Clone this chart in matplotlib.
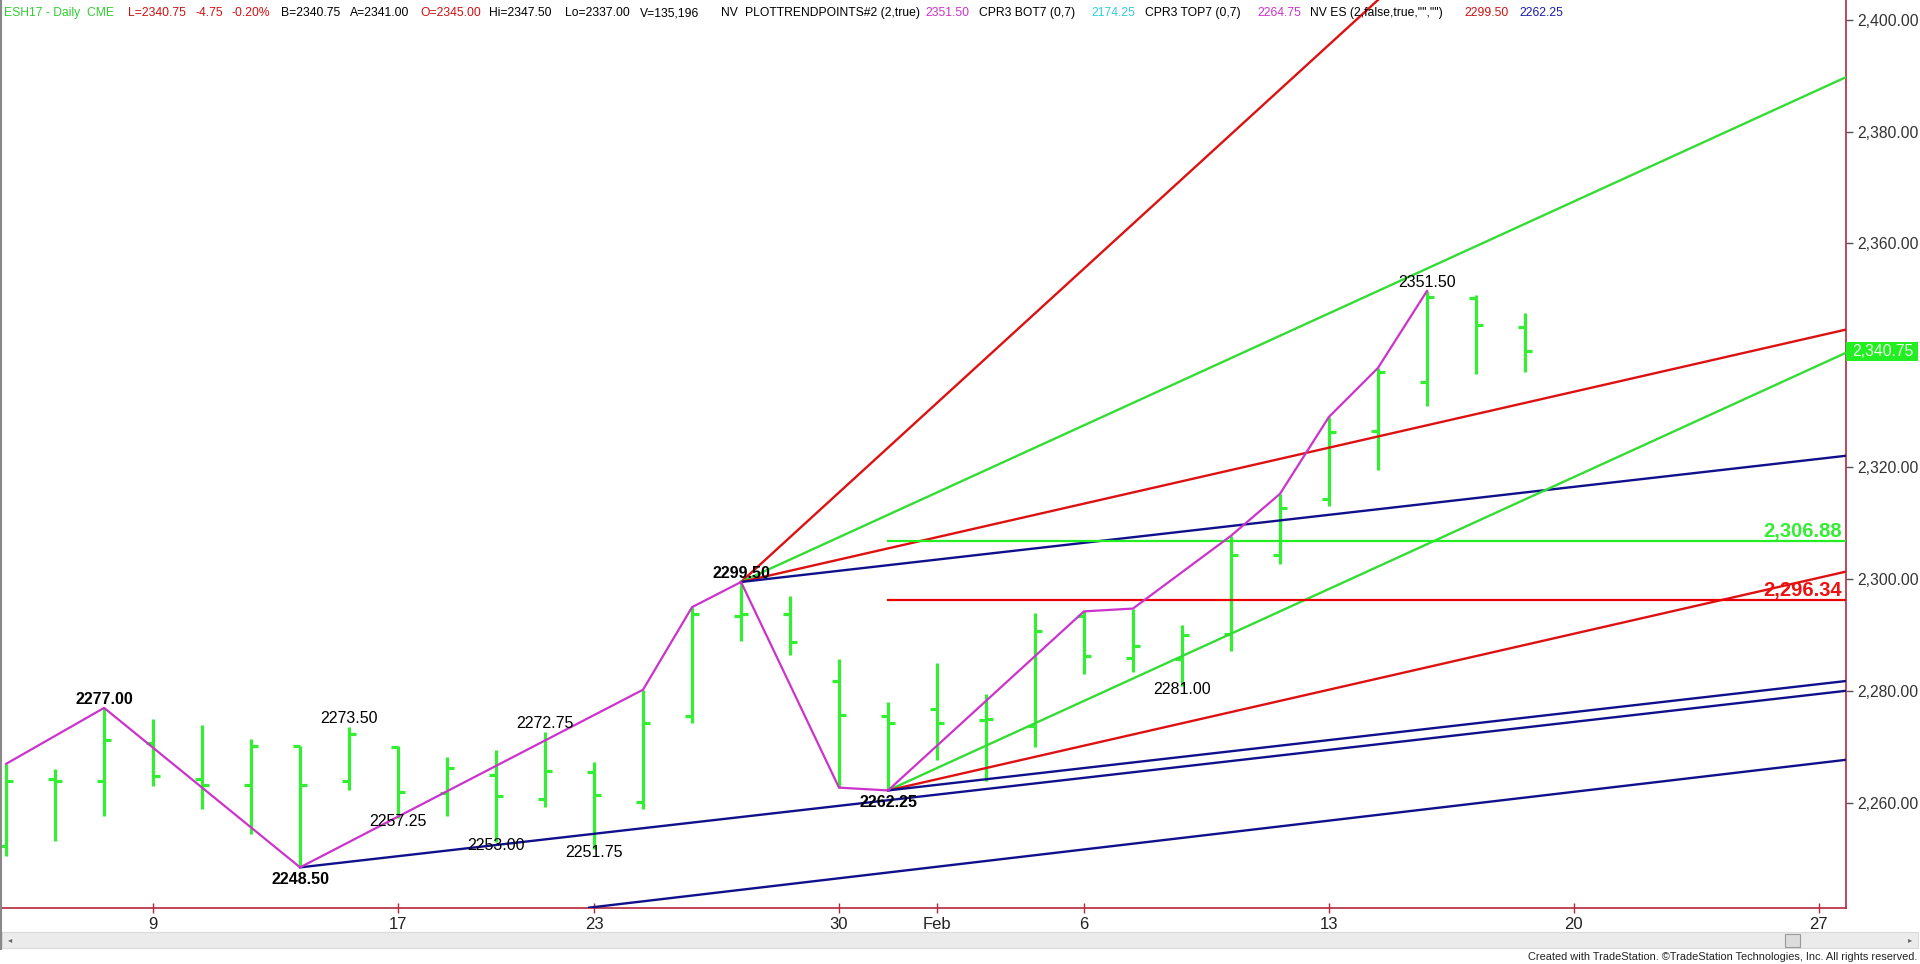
import numpy as np
import matplotlib
matplotlib.use('Agg')
import matplotlib.pyplot as plt
from matplotlib import patches
from matplotlib.font_manager import fontManager

# ESH17 daily bars, Jan 4 - Feb 17 2017 (one entry per trading day)
opens = [2252.25, 2264.25, 2264.00, 2270.75, 2264.25, 2263.25, 2270.25, 2264.00,
         2270.00, 2261.75, 2265.00, 2260.75, 2265.50, 2260.25, 2275.50, 2293.50,
         2293.75, 2281.75, 2275.50, 2276.75, 2274.75, 2273.75, 2293.50, 2286.00,
         2285.75, 2290.25, 2304.25, 2314.25, 2326.50, 2335.25, 2350.25, 2345.00]
highs = [2267.00, 2266.00, 2277.00, 2275.00, 2274.00, 2271.50, 2270.25, 2273.50,
         2270.25, 2268.25, 2269.50, 2272.75, 2267.25, 2280.25, 2295.00, 2299.50,
         2297.00, 2285.75, 2278.00, 2285.00, 2279.50, 2294.00, 2294.25, 2294.75,
         2291.75, 2307.75, 2315.25, 2329.00, 2337.75, 2351.50, 2350.75, 2347.50]
lows = [2250.50, 2253.25, 2257.75, 2263.00, 2259.00, 2254.50, 2248.50, 2262.25,
        2257.25, 2257.75, 2253.00, 2259.25, 2251.75, 2259.00, 2274.25, 2289.00,
        2286.50, 2262.75, 2262.25, 2267.75, 2264.00, 2270.00, 2283.00, 2283.50,
        2281.00, 2287.25, 2302.75, 2313.00, 2319.50, 2331.00, 2336.75, 2337.00]
closes = [2264.00, 2264.00, 2271.25, 2264.75, 2263.25, 2270.25, 2263.25, 2272.25,
          2262.00, 2266.25, 2261.25, 2265.75, 2261.50, 2274.25, 2293.75, 2293.75,
          2288.75, 2275.75, 2274.25, 2274.25, 2275.00, 2290.75, 2286.25, 2288.00,
          2290.00, 2304.25, 2312.75, 2326.25, 2337.00, 2350.50, 2345.50, 2340.75]

tick_pos = [3, 8, 12, 17, 19, 22, 27, 32, 37]
tick_labels = ['9', '17', '23', '30', 'Feb', '6', '13', '20', '27']
price_ticks = [2260, 2280, 2300, 2320, 2360, 2380, 2400]   # 2,340 sits under the last-price box
last_price = 2340.75

# swing line (NV indicator)
zz_idx = [0, 2, 6, 13, 14, 15, 17, 18, 22, 23, 25, 26, 27, 28, 29]
zz_price = [2267.00, 2277.00, 2248.50, 2280.25, 2295.00, 2299.50, 2262.75, 2262.25,
            2294.25, 2294.75, 2307.75, 2315.25, 2329.00, 2337.75, 2351.50]

# swing point labels
top_idx = [2, 7, 11, 15, 29]
top_major = [True, False, False, True, False]
bot_idx = [6, 8, 10, 12, 18, 24]
bot_major = [True, False, False, False, True, False]

# angle lines: anchor bar, anchor price, points per bar
fan_a = (15, 2299.50)
fan_a_slopes = [8, 4, 2, 1]
fan_b = (18, 2262.25)
fan_b_slopes = [4, 2, 1]
trend_c = (6, 2248.50, 1.0)
trend_d = (11.9, 2241.30, 1.03)

# retracement levels of the 2262.25 - 2351.50 swing
retr_start = 18
retr_levels = [2306.88, 2296.34]

header = [
    ('ESH17 - Daily  CME', 4, '#33CC33'),
    ('L=2340.75', 128, '#CC1111'), ('-4.75', 196, '#CC1111'), ('-0.20%', 232, '#CC1111'),
    ('B=2340.75', 281, 'black'), ('A=2341.00', 350, 'black'), ('O=2345.00', 420, '#CC1111'),
    ('Hi=2347.50', 489, 'black'), ('Lo=2337.00', 565, 'black'), ('V=135,196', 640, 'black'),
    ('NV', 721, 'black'), ('PLOTTRENDPOINTS#2 (2,true)', 745, 'black'),
    ('2351.50', 925, '#CC33CC'), ('CPR3 BOT7 (0,7)', 979, 'black'),
    ('2174.25', 1091, '#33CCDD'), ('CPR3 TOP7 (0,7)', 1145, 'black'),
    ('2264.75', 1257, '#CC33CC'), ('NV ES (2,false,true,"","")', 1310, 'black'),
    ('2299.50', 1464, '#CC1111'), ('2262.25', 1519, '#1A1AAA'),
]

names = {f.name for f in fontManager.ttflist}
NARROW = 'Liberation Sans Narrow' if 'Liberation Sans Narrow' in names else 'Liberation Sans'
nscale = 1.0 if NARROW == 'Liberation Sans Narrow' else 0.83
SANS = 'Liberation Sans'

BAR = '#33EE33'
RED = '#DD1111'
GREEN = '#33DD33'
BLUE = '#10108C'
MAG = '#CC33CC'
AXIS = '#B4283C'

W, H = 1920, 964
fig = plt.figure(figsize=(W / 100, H / 100), dpi=100)
ax = fig.add_axes([2 / W, (H - 908) / H, (1846 - 2) / W, 908 / H])
XMAX = 37.553
ax.set_xlim(-0.084, XMAX)
ax.set_ylim(2241.24, 2403.5)

# bars
x = np.arange(len(opens))
ax.vlines(x, lows, highs, color=BAR, lw=2.3, zorder=2)
ax.hlines(opens, x - 0.14, x, color=BAR, lw=2.3, zorder=2)
ax.hlines(closes, x, x + 0.14, color=BAR, lw=2.3, zorder=2)

# angle lines
fan_cols_a = [RED, GREEN, RED, BLUE]
for s, c in zip(fan_a_slopes, fan_cols_a):
    xs = np.array([fan_a[0], XMAX])
    ax.plot(xs, fan_a[1] + s * (xs - fan_a[0]), color=c, lw=1.7, zorder=3)
fan_cols_b = [GREEN, RED, BLUE]
for s, c in zip(fan_b_slopes, fan_cols_b):
    xs = np.array([fan_b[0], XMAX])
    ax.plot(xs, fan_b[1] + s * (xs - fan_b[0]), color=c, lw=1.7, zorder=3)
for t in (trend_c, trend_d):
    xs = np.array([t[0], XMAX])
    ax.plot(xs, t[1] + t[2] * (xs - t[0]), color=BLUE, lw=1.7, zorder=3)

# retracement levels
for lvl, c, tc in zip(retr_levels, ['#22EE22', '#EE0000'], ['#33EE33', '#EE1111']):
    ax.plot([retr_start, XMAX], [lvl, lvl], color=c, lw=1.6, zorder=3)
    ax.annotate(f'{lvl:,.2f}', xy=(1, lvl), xycoords=('axes fraction', 'data'),
                xytext=(-4, 4), textcoords='offset pixels', ha='right', va='baseline',
                color=tc, fontsize=14.5, fontweight='bold', family=SANS, zorder=5)

# swing line
ax.plot(zz_idx, zz_price, color=MAG, lw=1.6, zorder=4)

# swing labels
for i, m in zip(top_idx, top_major):
    ax.annotate(f'{highs[i]:.2f}', xy=(i, highs[i]), xytext=(0, 4), textcoords='offset pixels',
                ha='center', va='baseline', fontsize=11.5, family=SANS,
                fontweight='bold' if m else 'normal', color='black', zorder=6)
for i, m in zip(bot_idx, bot_major):
    ax.annotate(f'{lows[i]:.2f}', xy=(i, lows[i]), xytext=(0, -17 if m else -8),
                textcoords='offset pixels', ha='center', va='baseline', fontsize=11.5,
                family=SANS, fontweight='bold' if m else 'normal', color='black', zorder=6)

# axes styling
for s in ('top', 'left'):
    ax.spines[s].set_visible(False)
for s in ('right', 'bottom'):
    ax.spines[s].set_color(AXIS)
    ax.spines[s].set_linewidth(1.2)
ax.yaxis.tick_right()
ax.set_yticks(price_ticks, [f'{v:,.2f}' for v in price_ticks])
ax.tick_params(axis='y', length=5, width=1, color='#555555', pad=3, labelsize=11.3,
               labelcolor='#333333', labelfontfamily=SANS)
ax.set_xticks(tick_pos, tick_labels)
ax.tick_params(axis='x', direction='inout', length=7, width=1, color=AXIS, pad=3,
               labelsize=12, labelcolor='#222222', labelfontfamily=NARROW)

# last price box
ytr = ax.get_yaxis_transform()
dy = 9.5 / 5.596
ax.add_patch(patches.Rectangle((1.0, last_price - dy), 72 / 1844, 2 * dy, transform=ytr,
                               clip_on=False, fc='#22EE22', ec='none', zorder=6))
ax.text(1.0 + 6 / 1844, last_price, f'{last_price:,.2f}', transform=ytr, va='center',
        ha='left', fontsize=11.3, family=SANS, color='#E8FFE8', zorder=7, clip_on=False)

# header
def fy(ytop):
    return (H - ytop) / H

for txt, xp, c in header:
    fig.text(xp / W, fy(16), txt, color=c, fontsize=10.5 * nscale, family=NARROW,
             ha='left', va='baseline')

# window chrome: left border, scrollbar, footer
fig.add_artist(plt.Line2D([1 / W, 1 / W], [fy(0), fy(949)], color='#888888', lw=1.5))
fig.add_artist(patches.Rectangle((2 / W, fy(948)), 1916 / W, 16 / H, fc='#EBEBEB',
                                 ec='#DADADA', lw=0.8))
fig.add_artist(patches.Rectangle((1785 / W, fy(947)), 15 / W, 13 / H, fc='#DCDCDC',
                                 ec='#9A9A9A', lw=0.8))
fig.text(10 / W, fy(940), '\u25c2', fontsize=6, color='#666666', ha='center', va='center')
fig.text(1910 / W, fy(940), '\u25b8', fontsize=6, color='#666666', ha='center', va='center')
fig.text(1917 / W, fy(960), 'Created with TradeStation. \u00a9TradeStation Technologies, Inc. All rights reserved.',
         fontsize=9.6 * nscale, family=NARROW, color='#222222', ha='right', va='baseline')

fig.savefig('out.png', dpi=100)
